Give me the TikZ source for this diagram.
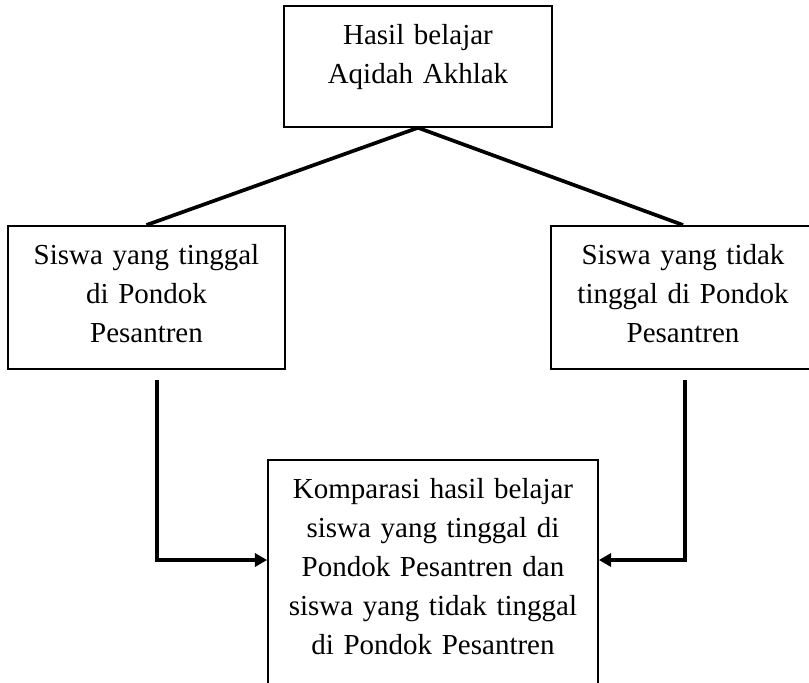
\documentclass[tikz,border=0pt]{standalone}
\usepackage{fontspec}
\setmainfont{Liberation Serif}
\usepackage{tikz}
\usetikzlibrary{arrows.meta, positioning, calc}

\begin{document}
\begin{tikzpicture}[font=\fontsize{16.5}{22.1}\selectfont,
  kotak/.style={draw, line width=1pt, inner sep=0pt, align=center, anchor=north, text height=0.78cm},
  garis/.style={line width=2.1pt},
  panah/.style={line width=2.1pt, -{Triangle[length=7pt,width=7.5pt]}}]
  \useasboundingbox (0,0) rectangle (16.18,-13.64);
  \node[kotak, text width=5.36cm, text depth=1.64cm] (hasil) at (8.36,-0.10) {Hasil belajar\\Aqidah Akhlak};
  \node[kotak, text width=5.54cm, text depth=2.08cm] (tinggal) at (2.93,-4.50) {Siswa yang tinggal\\di Pondok\\Pesantren};
  \node[kotak, text width=5.28cm, text depth=2.08cm] (tidak) at (13.66,-4.50) {Siswa yang tidak\\tinggal di Pondok\\Pesantren};
  \node[kotak, text width=6.60cm, text depth=4.04cm] (komparasi) at (8.66,-9.18) {Komparasi hasil belajar\\siswa yang tinggal di\\Pondok Pesantren dan\\siswa yang tidak tinggal\\di Pondok Pesantren};
  \draw[garis] (hasil.south) -- (tinggal.north);
  \draw[garis] (hasil.south) -- (tidak.north);
  \draw[panah] ([xshift=0.21cm,yshift=-0.2cm]tinggal.south) |- ([yshift=-2.02cm]komparasi.north west);
  \draw[panah] ([xshift=0.04cm,yshift=-0.2cm]tidak.south) |- ([yshift=-2.02cm]komparasi.north east);
\end{tikzpicture}
\end{document}
